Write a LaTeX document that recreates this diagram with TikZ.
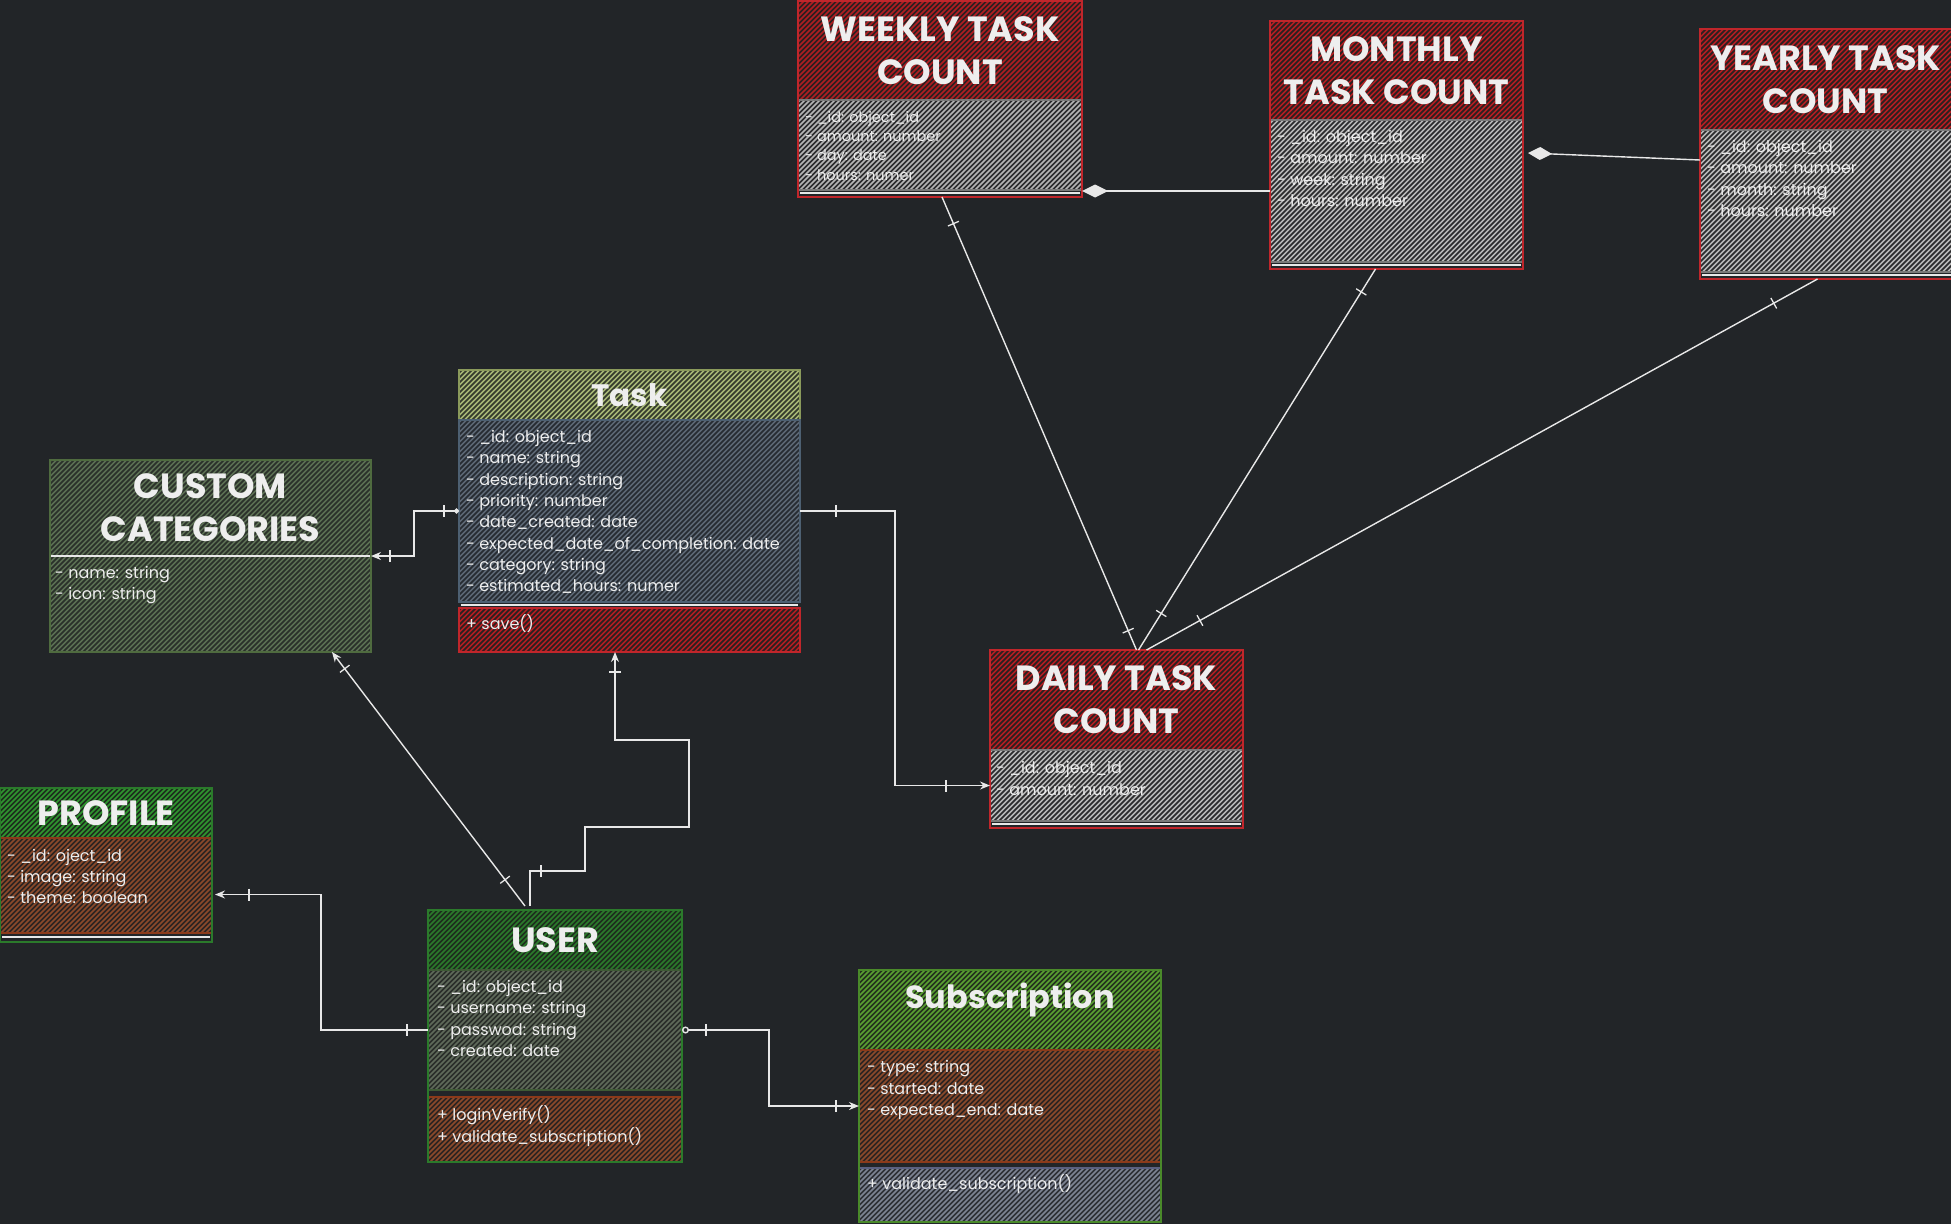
\documentclass[tikz,border=0pt]{standalone}
\usepackage{fontspec}
\setmainfont{Poppins}
\usetikzlibrary{arrows.meta,decorations.markings}

\definecolor{bgc}{HTML}{222528}
\definecolor{linec}{HTML}{E8E8E8}
\definecolor{txt}{HTML}{EEEEEE}
\definecolor{redB}{HTML}{2B2020}\definecolor{redL}{HTML}{B01E22}\definecolor{redE}{HTML}{C0262B}
\definecolor{grayB}{HTML}{2A2A2C}\definecolor{grayL}{HTML}{B5B5B5}\definecolor{grayE}{HTML}{7A7A7A}
\definecolor{oliveB}{HTML}{343A2C}\definecolor{oliveL}{HTML}{A4B474}\definecolor{oliveE}{HTML}{8A9A5B}
\definecolor{slateB}{HTML}{262B31}\definecolor{slateL}{HTML}{5B6673}\definecolor{slateE}{HTML}{4D6072}
\definecolor{ccB}{HTML}{2A302A}\definecolor{ccL}{HTML}{5A6E52}\definecolor{ccE}{HTML}{4F6B3F}
\definecolor{grnB}{HTML}{1D2E1D}\definecolor{grnL}{HTML}{2F962F}\definecolor{grnE}{HTML}{2B7A2B}
\definecolor{brnB}{HTML}{2C2421}\definecolor{brnL}{HTML}{8B4A2B}\definecolor{brnE}{HTML}{8B3A1A}
\definecolor{ugB}{HTML}{2A2E2A}\definecolor{ugL}{HTML}{5F6A5A}\definecolor{ugE}{HTML}{3E5A35}
\definecolor{sgB}{HTML}{23321D}\definecolor{sgL}{HTML}{5AA032}\definecolor{sgE}{HTML}{4A8A2A}
\definecolor{smB}{HTML}{2D2F35}\definecolor{smL}{HTML}{7E8494}\definecolor{smE}{HTML}{5A6080}

\tikzset{
  hach/.style 2 args={fill=#1, path picture={
      \foreach \k in {-450,-445,...,450}
        \draw[-, draw=#2, line width=1.5pt] ([xshift=\k pt]path picture bounding box.south) -- ++(460pt,460pt);}},
  cpart/.style={anchor=north west, inner sep=0pt, outer sep=0pt, line width=1.3pt},
  boxframe/.style={anchor=north west, inner sep=0pt, outer sep=0pt, line width=1.6pt},
  ttl/.style={text=txt, font=\fontsize{35}{43}\selectfont\bfseries, align=center, inner sep=0pt},
  bodytxt/.style={text=txt, font=\fontsize{16}{21.3}\selectfont, align=left, anchor=north west, inner sep=0pt},
  sepline/.style={draw=linec, line width=1.5pt},
  conn/.style={draw=linec, line width=1.4pt},
  ticks/.style={postaction={decorate, decoration={markings, mark=at position #1 with {\draw[-, linec, line width=1.3pt] (0pt,-6pt) -- (0pt,6pt);}}}},
  arrowend/.style={-{Stealth[length=10pt,width=8pt]}},
}

\begin{document}
\begin{tikzpicture}[x=1pt,y=-1pt]
\fill[bgc] (0,0) rectangle (1951,1224);
\useasboundingbox (0,0) rectangle (1951,1224);

% ---------- WEEKLY ----------
\node[cpart, hach={redB}{redL}, draw=redE, minimum width=284pt, minimum height=99pt] (weeklyH) at (798,1) {};
\node[cpart, hach={grayB}{grayL}, draw=grayE, minimum width=284pt, minimum height=90pt] (weeklyB) at (798,100) {};
\draw[sepline] ([xshift=2pt,yshift=-3pt]weeklyB.south west) -- ([xshift=-2pt,yshift=-3pt]weeklyB.south east);
\node[boxframe, draw=redE, minimum width=284pt, minimum height=196pt] (weekly) at (798,1) {};
\node[ttl] (weeklyT) at (weeklyH.center) {WEEKLY TASK\\COUNT};
\node[bodytxt, font=\fontsize{14.5}{19.3}\selectfont] (weeklyX) at (805,108.5) {\strut- \_id: object\_id\\- amount: number\\- day: date\\- hours: numer};

% ---------- MONTHLY ----------
\node[cpart, hach={redB}{redL}, draw=redE, minimum width=253pt, minimum height=99pt] (monthlyH) at (1270,21) {};
\node[cpart, hach={grayB}{grayL}, draw=grayE, minimum width=253pt, minimum height=142pt] (monthlyB) at (1270,120) {};
\draw[sepline] ([xshift=2pt,yshift=-3pt]monthlyB.south west) -- ([xshift=-2pt,yshift=-3pt]monthlyB.south east);
\node[boxframe, draw=redE, minimum width=253pt, minimum height=248pt] (monthly) at (1270,21) {};
\node[ttl] (monthlyT) at (monthlyH.center) {MONTHLY\\TASK COUNT};
\node[bodytxt] (monthlyX) at (1277,127.5) {\strut- \_id: object\_id\\- amount: number\\- week: string\\- hours: number};

% ---------- YEARLY ----------
\node[cpart, hach={redB}{redL}, draw=redE, minimum width=255pt, minimum height=101pt] (yearlyH) at (1700,29) {};
\node[cpart, hach={grayB}{grayL}, draw=grayE, minimum width=255pt, minimum height=142pt] (yearlyB) at (1700,130) {};
\draw[sepline] ([xshift=2pt,yshift=-3pt]yearlyB.south west) -- ([xshift=-2pt,yshift=-3pt]yearlyB.south east);
\node[boxframe, draw=redE, minimum width=255pt, minimum height=250pt] (yearly) at (1700,29) {};
\node[ttl] (yearlyT) at ([xshift=-2pt]yearlyH.center) {YEARLY TASK\\COUNT};
\node[bodytxt] (yearlyX) at (1707,137.5) {\strut- \_id: object\_id\\- amount: number\\- month: string\\- hours: number};

% ---------- DAILY ----------
\node[cpart, hach={redB}{redL}, draw=redE, minimum width=253pt, minimum height=100pt] (dailyH) at (990,650) {};
\node[cpart, hach={grayB}{grayL}, draw=grayE, minimum width=253pt, minimum height=71pt] (dailyB) at (990,750) {};
\draw[sepline] ([xshift=2pt,yshift=-3pt]dailyB.south west) -- ([xshift=-2pt,yshift=-3pt]dailyB.south east);
\node[boxframe, draw=redE, minimum width=253pt, minimum height=178pt] (daily) at (990,650) {};
\node[ttl] (dailyT) at (dailyH.center) {DAILY TASK\\COUNT};
\node[bodytxt, font=\fontsize{16}{22}\selectfont] (dailyX) at (996,757.5) {\strut- \_id: object\_id\\- amount: number};

% ---------- TASK ----------
\node[cpart, hach={oliveB}{oliveL}, draw=oliveE, minimum width=341pt, minimum height=50pt] (taskH) at (459,370) {};
\node[cpart, hach={slateB}{slateL}, draw=slateE, minimum width=341pt, minimum height=182pt] (taskB) at (459,420) {};
\draw[sepline] ([xshift=2pt,yshift=-3pt]taskB.south west) -- ([xshift=-2pt,yshift=-3pt]taskB.south east);
\node[cpart, hach={redB}{redL}, draw=redE, minimum width=341pt, minimum height=44pt] (taskM) at (459,608) {};
\node[boxframe, minimum width=341pt, minimum height=282pt] (task) at (459,370) {};
\node[ttl, font=\fontsize{31}{40}\selectfont\bfseries] (taskT) at (taskH.center) {Task};
\node[bodytxt] (taskX) at (466,427.5) {\strut- \_id: object\_id\\- name: string\\- description: string\\- priority: number\\- date\_created: date\\- expected\_date\_of\_completion: date\\- category: string\\- estimated\_hours: numer};
\node[bodytxt] (taskMX) at (466,614.5) {\strut+ save()};

% ---------- CUSTOM CATEGORIES ----------
\node[cpart, hach={ccB}{ccL}, minimum width=321pt, minimum height=96pt] (ccH) at (50,460) {};
\node[cpart, hach={ccB}{ccL}, minimum width=321pt, minimum height=96pt] (ccB) at (50,556) {};
\draw[sepline] (ccH.south west) -- (ccH.south east);
\node[boxframe, draw=ccE, minimum width=321pt, minimum height=192pt] (cc) at (50,460) {};
\node[ttl] (ccT) at (ccH.center) {CUSTOM\\CATEGORIES};
\node[bodytxt, font=\fontsize{16}{21}\selectfont] (ccX) at (55,563.5) {\strut- name: string\\- icon: string};

% ---------- PROFILE ----------
\node[cpart, hach={grnB}{grnL}, draw=grnE, minimum width=212pt, minimum height=50pt] (profileH) at (0,788) {};
\node[cpart, hach={brnB}{brnL}, draw=brnE, minimum width=212pt, minimum height=95pt] (profileB) at (0,838) {};
\draw[sepline] ([xshift=2pt,yshift=-4pt]profileB.south west) -- ([xshift=-2pt,yshift=-4pt]profileB.south east);
\node[boxframe, draw=grnE, minimum width=212pt, minimum height=154pt] (profile) at (0,788) {};
\node[ttl] (profileT) at (profileH.center) {PROFILE};
\node[bodytxt, font=\fontsize{16}{21}\selectfont] (profileX) at (7,846.5) {\strut- \_id: oject\_id\\- image: string\\- theme: boolean};

% ---------- USER ----------
\node[cpart, hach={grnB}{grnE}, draw=grnE, minimum width=254pt, minimum height=60pt] (userH) at (428,910) {};
\node[cpart, hach={ugB}{ugL}, draw=ugE, minimum width=254pt, minimum height=120pt] (userB) at (428,970) {};
\node[cpart, hach={brnB}{brnL}, draw=brnE, minimum width=254pt, minimum height=65pt] (userM) at (428,1097) {};
\node[boxframe, draw=grnE, minimum width=254pt, minimum height=252pt] (user) at (428,910) {};
\node[ttl] (userT) at (userH.center) {USER};
\node[bodytxt] (userX) at (437,977.5) {\strut- \_id: object\_id\\- username: string\\- passwod: string\\- created: date};
\node[bodytxt, font=\fontsize{16}{22}\selectfont] (userMX) at (437,1104.5) {\strut+ loginVerify()\\+ validate\_subscription()};

% ---------- SUBSCRIPTION ----------
\node[cpart, hach={sgB}{sgL}, draw=sgE, minimum width=302pt, minimum height=80pt] (subH) at (859,970) {};
\node[cpart, hach={brnB}{brnL}, draw=brnE, minimum width=302pt, minimum height=112pt] (subB) at (859,1050) {};
\node[cpart, hach={smB}{smL}, draw=smE, minimum width=302pt, minimum height=54pt] (subM) at (859,1168) {};
\node[boxframe, draw=sgE, minimum width=302pt, minimum height=252pt] (sub) at (859,970) {};
\node[ttl, font=\fontsize{32}{40}\selectfont\bfseries] (subT) at ([yshift=10pt]subH.center) {Subscription};
\node[bodytxt, font=\fontsize{16}{21.5}\selectfont] (subX) at (867,1057.5) {\strut- type: string\\- started: date\\- expected\_end: date};
\node[bodytxt] (subMX) at (867,1174.5) {\strut+ validate\_subscription()};

% ---------- CONNECTORS ----------
\draw[conn, {Diamond[length=26pt,width=13pt]}-] (weekly.east |- monthlyB.west) -- (monthlyB.west);
\draw[conn, {Diamond[length=24pt,width=13pt]}-] ([xshift=5pt,yshift=-8pt]monthly.east) -- ([yshift=-6pt]yearly.west);

\draw[conn, {Circle[length=5pt]}-{Stealth[length=10pt,width=8pt]}, ticks=15pt, ticks=-19pt]
  (task.west) -- ++(-45,0) |- (ccH.south east);
\draw[conn, arrowend, ticks=36pt, ticks=-44pt]
  (task.east) -- ++(95,0) |- (dailyB.west);
\draw[conn, arrowend, ticks=33pt, ticks=-21pt]
  ([xshift=-30pt,yshift=4pt]user.north) -- ([xshift=-39pt]cc.south east);
\draw[conn, arrowend, ticks=46pt, ticks=-20pt]
  ([xshift=-25pt,yshift=4pt]user.north) -- ++(0,-35) -- ++(55,0) -- ++(0,-44) -- ++(104,0) -- ++(0,-87) -- ++(-74,0) -- ([xshift=-14.5pt]task.south);
\draw[conn, arrowend, ticks=21pt, ticks=-34pt]
  (userB.west) -- ++(-107,0) |- ([xshift=3pt,yshift=-9pt]profileB.east);
\draw[conn, {Circle[open,length=7pt]}-{Stealth[length=10pt,width=8pt]}, ticks=24pt, ticks=-23pt]
  (userB.east) -- ++(87,0) |- (subB.west);

\draw[conn, ticks=29pt, ticks=-21pt] ([xshift=2pt]weekly.south) -- ([xshift=20pt]daily.north);
\draw[conn, ticks=27pt, ticks=-43pt] ([xshift=-21pt]monthly.south) -- ([xshift=22pt]daily.north);
\draw[conn, ticks=50pt, ticks=-61pt] ([xshift=-10pt]yearly.south) -- ([xshift=30pt]daily.north);
\end{tikzpicture}
\end{document}
